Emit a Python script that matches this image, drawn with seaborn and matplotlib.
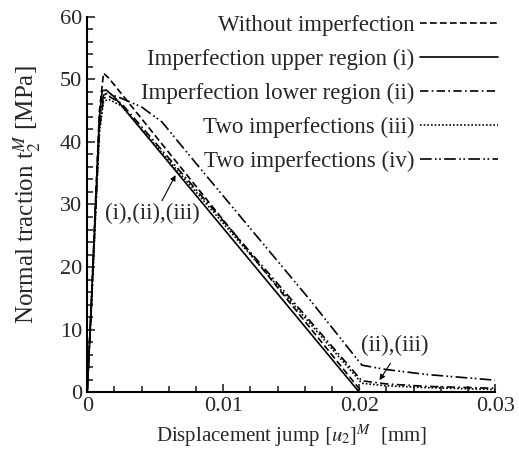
import numpy as np
import pandas as pd
import matplotlib
matplotlib.use("Agg")
import matplotlib.pyplot as plt
from matplotlib.ticker import MultipleLocator
import seaborn as sns

sns.set_theme(style="ticks")
plt.rcParams['font.family'] = ['Liberation Serif', 'DejaVu Serif']
plt.rcParams['mathtext.fontset'] = 'stix'

# dados
labels = ['Without imperfection', 'Imperfection upper region (i)',
          'Imperfection lower region (ii)', 'Two imperfections (iii)',
          'Two imperfections (iv)']

x_sem = [0, 0.0003, 0.0006, 0.0009, 0.0012, 0.0016, 0.0202, 0.03]
y_sem = [0, 14, 30, 45, 51, 50.2, 0, 0]

x_i = [0, 0.0003, 0.0006, 0.0009, 0.0011, 0.0014, 0.002, 0.0200, 0.03]
y_i = [0, 14, 29, 44, 48.2, 48.3, 47.2, 0, 0]

x_ii = [0, 0.0003, 0.0006, 0.0009, 0.0012, 0.0016, 0.0025, 0.0202, 0.022, 0.025, 0.03]
y_ii = [0, 13.5, 28, 42, 47, 47.3, 46.2, 1.8, 1.3, 0.9, 0.6]

x_iii = [0, 0.0003, 0.0006, 0.0009, 0.0012, 0.0016, 0.0025, 0.0202, 0.022, 0.025, 0.03]
y_iii = [0, 13, 27.5, 41.5, 46.5, 46.8, 45.8, 1.4, 1.0, 0.7, 0.4]

x_iv = [0, 0.0003, 0.0006, 0.0009, 0.0012, 0.0015, 0.0025, 0.004, 0.0055, 0.0083,
        0.0164, 0.0202, 0.022, 0.025, 0.03]
y_iv = [0, 13.5, 28.5, 43, 47.5, 47.8, 47, 45.6, 43.2, 35.8, 14.7, 4.3, 3.6, 2.8, 1.9]

series_x = [x_sem, x_i, x_ii, x_iii, x_iv]
series_y = [y_sem, y_i, y_ii, y_iii, y_iv]
estilos = [(0, (4, 2)), '-', (0, (5, 2, 1, 2)), (0, (1, 1.2)),
           (0, (7, 2, 1, 1.5, 1, 2))]

df = pd.concat([pd.DataFrame({'x': sx, 'y': sy, 'caso': lb})
                for sx, sy, lb in zip(series_x, series_y, labels)])

fig, ax = plt.subplots(figsize=(5.19, 4.58), dpi=100)
fig.subplots_adjust(left=0.168, right=0.954, bottom=0.144, top=0.963)

for lb, ls in zip(labels, estilos):
    d = df[df['caso'] == lb]
    sns.lineplot(data=d, x='x', y='y', ax=ax, color='black', lw=1.2,
                 linestyle=ls, label=lb, sort=False)

ax.set_xlim(0, 0.03)
ax.set_ylim(0, 60)
ax.xaxis.set_minor_locator(MultipleLocator(0.002))
ax.yaxis.set_major_locator(MultipleLocator(10))
ax.yaxis.set_minor_locator(MultipleLocator(2))
ax.set_xticks([0, 0.01, 0.02, 0.03])
ax.set_xticklabels(['0', '0.01', '0.02', '0.03'])
ax.tick_params(which='both', direction='in', labelsize=16, width=1.2)
ax.tick_params(which='major', length=6)
ax.tick_params(which='minor', length=4)
for s in ['top', 'right']:
    ax.spines[s].set_visible(False)
for s in ['left', 'bottom']:
    ax.spines[s].set_linewidth(1.5)
    ax.spines[s].set_color('black')

ax.set_xlabel('Displacement jump $[u_2]^M$  [mm]', fontsize=15, labelpad=5)
ax.set_ylabel('Normal traction t$_2^{M}$ [MPa]', fontsize=18)
ax.yaxis.set_label_coords(-0.105, 0.525)

seta = dict(arrowstyle='-|>', color='black', lw=0.8, mutation_scale=8,
            shrinkA=0, shrinkB=0)
ax.annotate('', xy=(0.0065, 34.7), xytext=(0.0055, 30.6), arrowprops=seta)
ax.text(0.0048, 28.5, '(i),(ii),(iii)', fontsize=16.5, ha='center', va='center')
ax.annotate('', xy=(0.0215, 1.9), xytext=(0.0223, 4.6), arrowprops=seta)
ax.text(0.0226, 7.5, '(ii),(iii)', fontsize=16.5, ha='center', va='center')

ax.legend(loc='upper right', bbox_to_anchor=(1.03, 1.03), frameon=False,
          markerfirst=False, fontsize=16.5, handlelength=3.4,
          labelspacing=0.56, handletextpad=0.25, borderaxespad=0)

plt.savefig('out.png', dpi=100)
